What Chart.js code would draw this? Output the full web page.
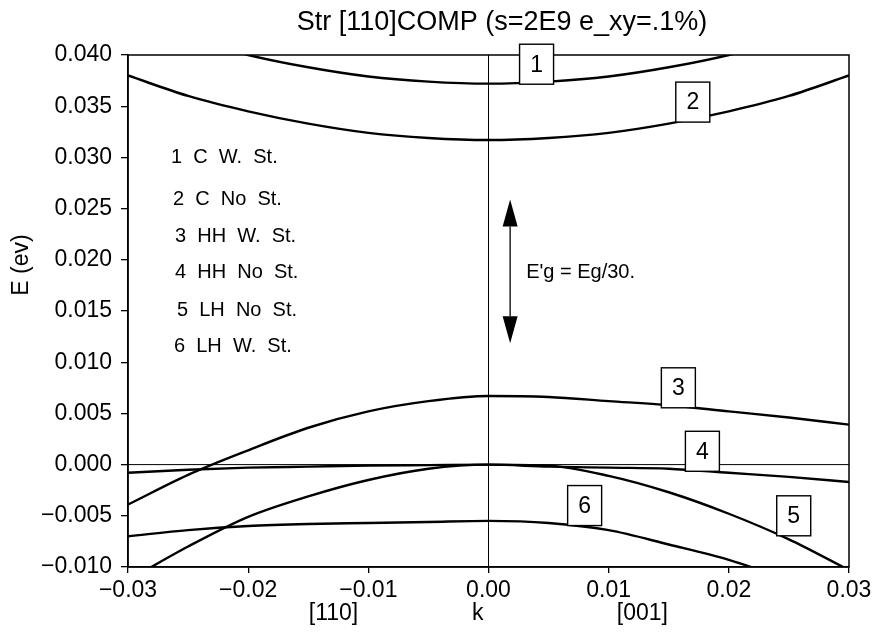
<!DOCTYPE html>
<html>
<head>
<meta charset="utf-8">
<script src="https://cdn.jsdelivr.net/npm/chart.js@4"></script>
<style>
  html, body { margin: 0; padding: 0; background: #fff; }
  #wrap { width: 873px; height: 636px; position: relative; }
</style>
</head>
<body>
<div id="wrap"><canvas id="c"></canvas></div>
<script>
// ---- data ----
const kValues = [-0.030, -0.025, -0.020, -0.015, -0.010, -0.005, 0.000, 0.005, 0.010, 0.015, 0.020, 0.025, 0.030];
const cWithStrain   = [0.0435, 0.0416, 0.0400, 0.0388, 0.0379, 0.0374, 0.0372, 0.0374, 0.0379, 0.0388, 0.0400, 0.0416, 0.0435]; // 1
const cNoStrain     = [0.0380, 0.0360, 0.0345, 0.0333, 0.0324, 0.0319, 0.0317, 0.0319, 0.0324, 0.0333, 0.0345, 0.0360, 0.0380]; // 2
const hhWithStrain  = [-0.0039, -0.0010, 0.0014, 0.0036, 0.0052, 0.0062, 0.0067, 0.0066, 0.0062, 0.0058, 0.0052, 0.0046, 0.0039]; // 3
const hhNoStrain    = [-0.0008, -0.0005, -0.0003, -0.0002, -0.0001, -0.00005, 0.0, -0.0002, -0.0003, -0.0004, -0.0008, -0.0012, -0.0017]; // 4
const lhNoStrain    = [-0.0113, -0.0080, -0.0051, -0.0031, -0.0015, -0.0004, 0.0, -0.0001, -0.0011, -0.0027, -0.0048, -0.0073, -0.0103]; // 5
const lhWithStrain  = [-0.0070, -0.0064, -0.0060, -0.0058, -0.0057, -0.0056, -0.0055, -0.0057, -0.0064, -0.0078, -0.0093, -0.0113, -0.0135]; // 6

const curveNumbers = ['1', '2', '3', '4', '5', '6'];
const curveNames = ['1  C  W.  St.', '2  C  No  St.', '3  HH  W.  St.', '4  HH  No  St.', '5  LH  No  St.', '6  LH  W.  St.'];
// boxed curve number labels, anchored in data units (k, E)
const boxK = [0.0040, 0.0170, 0.0158, 0.0178, 0.0254, 0.0080];
const boxE = [0.0391, 0.0354, 0.0075, 0.0013, -0.0050, -0.0040];
// double arrow for the gap annotation (k, E top, E bottom)
const gapArrowK = 0.0018;
const gapArrowTop = 0.0259;
const gapArrowBottom = 0.01185;
const gapText = "E'g = Eg/30.";

const titleText = 'Str [110]COMP (s=2E9 e_xy=.1%)';
const yTitle = 'E (ev)';
const xSubLabels = ['[110]', 'k', '[001]'];
const xSubLabelK = [-0.0129, -0.0009, 0.0128];

const kRange = [-0.03, 0.03];
const eRange = [-0.010, 0.040];

// ---- build datasets ----
const series = [cWithStrain, cNoStrain, hhWithStrain, hhNoStrain, lhNoStrain, lhWithStrain];
const toPts = arr => kValues.map((k, i) => ({ x: k, y: arr[i] }));

const datasets = series.map((arr, i) => ({
  label: curveNames[i],
  data: toPts(arr),
  borderColor: '#000',
  borderWidth: 2.4,
  pointRadius: 0,
  cubicInterpolationMode: 'monotone',
  fill: false
}));
// zero reference lines
datasets.push({ label: 'E=0', data: [{ x: kRange[0], y: 0 }, { x: kRange[1], y: 0 }], borderColor: '#000', borderWidth: 1, pointRadius: 0 });
datasets.push({ label: 'k=0', data: [{ x: 0, y: eRange[0] }, { x: 0, y: eRange[1] }], borderColor: '#000', borderWidth: 1, pointRadius: 0 });

const FONT = '"Liberation Sans", Arial, sans-serif';
const minus = s => s.replace('-', '\u2212');

const annot = {
  id: 'annot',
  afterDraw(chart) {
    const ctx = chart.ctx;
    const xs = chart.scales.x, ys = chart.scales.y;
    const a = chart.chartArea;
    ctx.save();
    ctx.fillStyle = '#000';
    ctx.strokeStyle = '#000';

    // frame
    ctx.lineWidth = 1.5;
    ctx.strokeRect(a.left, a.top, a.right - a.left, a.bottom - a.top);

    // title
    ctx.font = '27px ' + FONT;
    ctx.textAlign = 'center';
    ctx.textBaseline = 'middle';
    ctx.fillText(titleText, 502, 23);

    // y title (rotated)
    ctx.save();
    ctx.translate(22, 265);
    ctx.rotate(-Math.PI / 2);
    ctx.font = '23px ' + FONT;
    ctx.fillText(yTitle, 0, 0);
    ctx.restore();

    // x sub labels
    ctx.font = '23px ' + FONT;
    xSubLabels.forEach((t, i) => {
      ctx.fillText(t, xs.getPixelForValue(xSubLabelK[i]), 614);
    });

    // legend text block
    ctx.font = '20px ' + FONT;
    ctx.textAlign = 'left';
    const legY = [157, 199, 236, 272, 310, 346];
    const legX = [171, 173, 175, 175, 177, 174];
    curveNames.forEach((t, i) => ctx.fillText(t, legX[i], legY[i]));

    // gap arrow
    const ax = xs.getPixelForValue(gapArrowK);
    const ay1 = ys.getPixelForValue(gapArrowTop);
    const ay2 = ys.getPixelForValue(gapArrowBottom);
    const headL = 27, headW = 7.5;
    ctx.lineWidth = 1.3;
    ctx.beginPath();
    ctx.moveTo(ax, ay1 + headL);
    ctx.lineTo(ax, ay2 - headL);
    ctx.stroke();
    ctx.beginPath();
    ctx.moveTo(ax, ay1); ctx.lineTo(ax - headW, ay1 + headL); ctx.lineTo(ax + headW, ay1 + headL); ctx.closePath(); ctx.fill();
    ctx.beginPath();
    ctx.moveTo(ax, ay2); ctx.lineTo(ax - headW, ay2 - headL); ctx.lineTo(ax + headW, ay2 - headL); ctx.closePath(); ctx.fill();
    ctx.font = '20px ' + FONT;
    ctx.fillText(gapText, ax + 16, (ay1 + ay2) / 2 + 1);

    // boxed numbers
    ctx.font = '23px ' + FONT;
    ctx.textAlign = 'center';
    const bw = 34, bh = 40;
    curveNumbers.forEach((t, i) => {
      const cx = xs.getPixelForValue(boxK[i]);
      const cy = ys.getPixelForValue(boxE[i]);
      ctx.fillStyle = '#fff';
      ctx.fillRect(cx - bw / 2, cy - bh / 2, bw, bh);
      ctx.strokeStyle = '#000';
      ctx.lineWidth = 1.4;
      ctx.strokeRect(cx - bw / 2, cy - bh / 2, bw, bh);
      ctx.fillStyle = '#000';
      ctx.fillText(t, cx, cy + 1);
    });
    ctx.restore();
  }
};

new Chart(document.getElementById('c'), {
  type: 'line',
  data: { datasets },
  options: {
    responsive: true,
    maintainAspectRatio: false,
    animation: false,
    layout: { padding: { left: 0, right: 24, top: 55, bottom: 0 } },
    plugins: { legend: { display: false }, tooltip: { enabled: false }, title: { display: false } },
    scales: {
      x: {
        type: 'linear',
        min: kRange[0], max: kRange[1],
        grid: { drawOnChartArea: false, drawTicks: true, tickLength: 6, color: '#000', lineWidth: 1.3 },
        border: { display: true, color: '#000', width: 1.5 },
        ticks: {
          stepSize: 0.01, padding: 4, color: '#000', maxRotation: 0,
          font: { family: FONT, size: 23 },
          callback: v => minus(Number(v).toFixed(2))
        },
        afterFit: s => { s.height = 69; s.paddingRight = 0; s.paddingLeft = 0; }
      },
      y: {
        type: 'linear',
        min: eRange[0], max: eRange[1],
        grid: { drawOnChartArea: false, drawTicks: true, tickLength: 7, color: '#000', lineWidth: 1.3 },
        border: { display: true, color: '#000', width: 1.5 },
        ticks: {
          stepSize: 0.005, padding: 9, color: '#000',
          font: { family: FONT, size: 23 },
          callback: v => minus(Number(v).toFixed(3))
        },
        afterFit: s => { s.width = 128; s.paddingTop = 0; s.paddingBottom = 0; }
      }
    }
  },
  plugins: [annot]
});
</script>
</body>
</html>
